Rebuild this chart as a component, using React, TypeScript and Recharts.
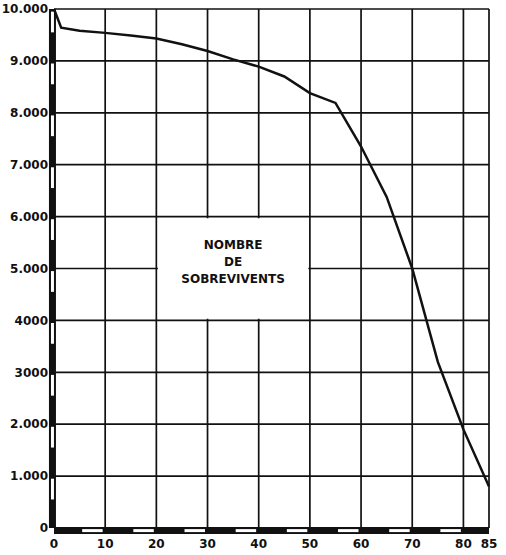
import {
  LineChart,
  Line,
  XAxis,
  YAxis,
  CartesianGrid,
  ReferenceArea,
  ReferenceLine,
} from "recharts";

// age (years) and survivors out of 10.000 births
const AGES = [0, 1.4, 5, 10, 15, 20, 25, 30, 35, 40, 45, 50, 55, 60, 65, 70, 75, 80, 85];
const SURVIVORS = [
  10000, 9640, 9580, 9540, 9490, 9430, 9320, 9190, 9030, 8890, 8700, 8380, 8190, 7350,
  6380, 5000, 3200, 1900, 800,
];

const X_TICKS = [0, 10, 20, 30, 40, 50, 60, 70, 80, 85];
const Y_TICKS = [0, 1000, 2000, 3000, 4000, 5000, 6000, 7000, 8000, 9000, 10000];
const Y_LABELS = [
  "0", "1.000", "2.000", "3000", "4000", "5.000", "6.000", "7.000", "8.000", "9.000", "10.000",
];
const TITLE_LINES = ["NOMBRE", "DE", "SOBREVIVENTS"];

const data = AGES.map((age, i) => ({ age, survivors: SURVIVORS[i] }));

// white strips inside the thick axis bars
const yStrips = Y_TICKS.slice(0, -1).map((v) => [v + 500, v + 1000]);
const xStrips = X_TICKS.slice(0, -2).map((v) => [v + 5, v + 10]);

const FONT = "'DejaVu Sans', sans-serif";

function BoxLabel(props: any) {
  const { x, y, width, height } = props.viewBox;
  const cx = x + width / 2;
  const top = y + height / 2 - 20;
  return (
    <text
      x={cx}
      y={top}
      textAnchor="middle"
      fontFamily={FONT}
      fontWeight="bold"
      fontSize={12}
      fill="#111"
    >
      {TITLE_LINES.map((t, i) => (
        <tspan key={t} x={cx} dy={i === 0 ? 0 : 17}>
          {t}
        </tspan>
      ))}
    </text>
  );
}

export default function App() {
  return (
    <div style={{ position: "absolute", left: 0, top: 0, background: "#fff" }}>
      <LineChart
        width={506}
        height={555}
        data={data}
        margin={{ top: 9, right: 17, left: 0, bottom: 0 }}
      >
        <CartesianGrid stroke="#111" strokeWidth={1.7} />
        <XAxis
          dataKey="age"
          type="number"
          domain={[0, 85]}
          ticks={X_TICKS}
          axisLine={false}
          tickLine={false}
          tickSize={0}
          tickMargin={11}
          height={27}
          tick={{ fontFamily: FONT, fontWeight: "bold", fontSize: 12, fill: "#111" }}
        />
        <YAxis
          type="number"
          domain={[0, 10000]}
          ticks={Y_TICKS}
          tickFormatter={(v: number) => Y_LABELS[Y_TICKS.indexOf(v)]}
          axisLine={false}
          tickLine={false}
          tickSize={0}
          tickMargin={6}
          width={54}
          tick={{ fontFamily: FONT, fontWeight: "bold", fontSize: 12, fill: "#111" }}
        />
        <ReferenceArea
          x1={20.3}
          x2={49.7}
          y1={4030}
          y2={5970}
          fill="#fff"
          fillOpacity={1}
          stroke="none"
          label={<BoxLabel />}
        />
        <ReferenceLine x={-0.3} stroke="#111" strokeWidth={7} ifOverflow="visible" />
        <ReferenceLine y={-50} stroke="#111" strokeWidth={7} ifOverflow="visible" />
        {yStrips.map(([a, b]) => (
          <ReferenceLine
            key={"y" + a}
            segment={[
              { x: -0.3, y: a + 50 },
              { x: -0.3, y: b - 50 },
            ]}
            stroke="#fff"
            strokeWidth={3}
            ifOverflow="visible"
          />
        ))}
        {xStrips.map(([a, b]) => (
          <ReferenceLine
            key={"x" + a}
            segment={[
              { x: a + 0.5, y: -50 },
              { x: b - 0.5, y: -50 },
            ]}
            stroke="#fff"
            strokeWidth={3}
            ifOverflow="visible"
          />
        ))}
        <Line
          dataKey="survivors"
          type="linear"
          stroke="#111"
          strokeWidth={2.5}
          dot={false}
          isAnimationActive={false}
        />
      </LineChart>
    </div>
  );
}
